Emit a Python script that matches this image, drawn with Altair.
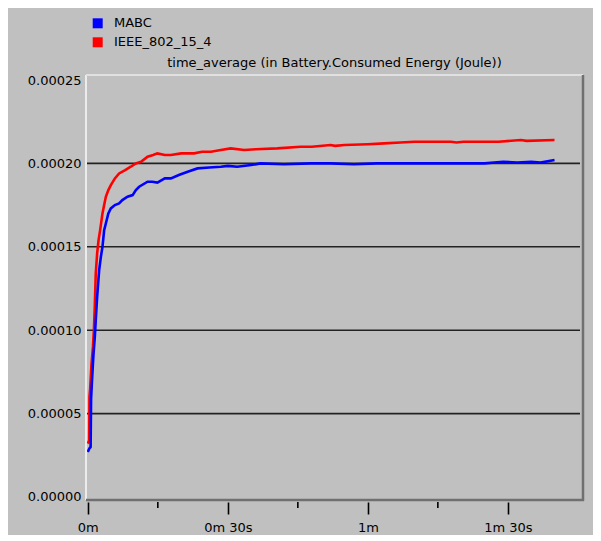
import altair as alt
import pandas as pd

W, H = 497, 425

series_names = ["MABC", "IEEE_802_15_4"]
series_colors = ["#0000ff", "#ff0000"]
title_text = "time_average (in Battery.Consumed Energy (Joule))"

mabc_t = [0, 0.3, 0.6, 0.7, 0.9, 1.2, 1.5, 1.7, 2.0, 2.43,
          2.8, 3.14, 3.5, 3.86, 4.4, 4.93, 5.8, 6.7, 7.4, 8.5,
          9.6, 10.3, 11, 12.8, 13.8, 14.9, 16.5, 17.8, 19.5, 21.4,
          23.5, 26, 28.5, 30, 32, 35, 37, 42, 47.8, 52,
          57, 62, 66, 70, 75, 80, 85, 89, 92, 95,
          97, 100]
mabc_v = [2.7e-5, 2.9e-5, 3.0e-5, 5.9e-5, 7.0e-5, 8.5e-5, 9.6e-5, 10.6e-5, 12.0e-5, 13.6e-5,
          14.4e-5, 15.0e-5, 16.0e-5, 16.4e-5, 17.0e-5, 17.3e-5, 17.5e-5, 17.6e-5, 17.8e-5, 18.0e-5,
          18.1e-5, 18.4e-5, 18.6e-5, 18.9e-5, 18.9e-5, 18.85e-5, 19.1e-5, 19.1e-5, 19.3e-5, 19.5e-5,
          19.7e-5, 19.75e-5, 19.8e-5, 19.85e-5, 19.8e-5, 19.9e-5, 20.0e-5, 19.95e-5, 20.0e-5, 20.0e-5,
          19.95e-5, 20.0e-5, 20.0e-5, 20.0e-5, 20.0e-5, 20.0e-5, 20.0e-5, 20.1e-5, 20.05e-5, 20.1e-5,
          20.05e-5, 20.2e-5]

ieee_t = [0, 0.3, 0.35, 0.5, 0.8, 1.1, 1.3, 1.5, 1.7, 2.0,
          2.3, 2.64, 3.14, 3.5, 3.86, 4.4, 4.93, 5.8, 6.7, 8.0,
          9.2, 10.3, 11.4, 12.8, 14.0, 14.9, 16.5, 17.8, 20, 22.8,
          24.5, 26.4, 28.5, 30.6, 33.5, 36, 40.6, 45.6, 48, 52,
          53, 55, 60, 63.5, 67, 70, 74, 77.8, 79, 80.5,
          81.4, 88, 92.8, 94, 100]
ieee_v = [3.2e-5, 3.4e-5, 6.0e-5, 6.5e-5, 8.0e-5, 9.0e-5, 10.0e-5, 11.5e-5, 13.4e-5, 14.6e-5,
          15.4e-5, 16.0e-5, 17.0e-5, 17.5e-5, 18.0e-5, 18.4e-5, 18.7e-5, 19.1e-5, 19.4e-5, 19.6e-5,
          19.8e-5, 20.0e-5, 20.1e-5, 20.4e-5, 20.5e-5, 20.6e-5, 20.5e-5, 20.5e-5, 20.6e-5, 20.6e-5,
          20.7e-5, 20.7e-5, 20.8e-5, 20.9e-5, 20.8e-5, 20.85e-5, 20.9e-5, 21.0e-5, 21.0e-5, 21.1e-5,
          21.05e-5, 21.1e-5, 21.15e-5, 21.2e-5, 21.25e-5, 21.3e-5, 21.3e-5, 21.3e-5, 21.25e-5, 21.3e-5,
          21.3e-5, 21.3e-5, 21.4e-5, 21.35e-5, 21.4e-5]

y_ticks = [0, 0.00005, 0.0001, 0.00015, 0.0002, 0.00025]
y_grid = [0.00005, 0.0001, 0.00015, 0.0002]
x_major = [0, 30, 60, 90]
x_minor = [15, 45, 75]

FONT = "DejaVu Sans"
FS = 13

df_m = pd.DataFrame({"t": mabc_t, "v": mabc_v, "s": "MABC"})
df_i = pd.DataFrame({"t": ieee_t, "v": ieee_v, "s": "IEEE_802_15_4"})

xscale = alt.Scale(domain=[-0.39, 106.1], nice=False, zero=False)
yscale = alt.Scale(domain=[-0.0000018, 0.000253], nice=False, zero=False)

xaxis = alt.Axis(values=x_major, title=None, grid=False, domain=False,
                 offset=2, tickSize=12, tickColor="#000", tickWidth=1.6,
                 labelExpr="floor(datum.value/60) + 'm' + (datum.value % 60 ? ' ' + (datum.value % 60) + 's' : '')",
                 labelFont=FONT, labelFontSize=FS, labelColor="#000", labelPadding=7,
                 labelFlush=False, labelOverlap=False)
yaxis = alt.Axis(values=y_ticks, format=".5f", title=None, grid=False,
                 ticks=False, domain=False, labelPadding=5,
                 labelFont=FONT, labelFontSize=FS, labelColor="#000")

cscale = alt.Scale(domain=series_names, range=series_colors)

grid = alt.Chart(pd.DataFrame({"v": y_grid})).mark_rule(color="#222", strokeWidth=1.6).encode(
    y=alt.Y("v:Q", scale=yscale, axis=yaxis),
    x=alt.value(0), x2=alt.value(W - 3),
)

red = alt.Chart(df_i).mark_line(strokeWidth=2.6).encode(
    x=alt.X("t:Q", scale=xscale, axis=xaxis),
    y=alt.Y("v:Q", scale=yscale, axis=yaxis),
    color=alt.Color("s:N", scale=cscale, legend=None),
)
blue = alt.Chart(df_m).mark_line(strokeWidth=2.6).encode(
    x=alt.X("t:Q", scale=xscale, axis=xaxis),
    y=alt.Y("v:Q", scale=yscale, axis=yaxis),
    color=alt.Color("s:N", scale=cscale, legend=None),
)

minor = alt.Chart(pd.DataFrame({"t": x_minor})).mark_rule(color="#000", strokeWidth=1.6).encode(
    x=alt.X("t:Q", scale=xscale, axis=xaxis),
    y=alt.value(H + 2), y2=alt.value(H + 8),
)

one = pd.DataFrame({"a": [0]})
title_mark = alt.Chart(one).mark_text(text=title_text, font=FONT, fontSize=FS, color="#000",
                                      align="center", baseline="middle").encode(
    x=alt.value(W / 2), y=alt.value(-12))

b_left = alt.Chart(one).mark_rule(color="#ececec", strokeWidth=2).encode(
    x=alt.value(0), y=alt.value(0), y2=alt.value(H))
b_top = alt.Chart(one).mark_rule(color="#e0e0e0", strokeWidth=2).encode(
    x=alt.value(0), x2=alt.value(W), y=alt.value(0))
b_right = alt.Chart(one).mark_rule(color="#707070", strokeWidth=2.5).encode(
    x=alt.value(W), y=alt.value(0), y2=alt.value(H + 1))
b_bottom = alt.Chart(one).mark_rule(color="#707070", strokeWidth=2.5).encode(
    x=alt.value(0), x2=alt.value(W + 1), y=alt.value(H))

main = alt.layer(grid, red, blue, minor, title_mark, b_left, b_top, b_right, b_bottom)

# legend (top-left, outside the plot area)
leg_df = pd.DataFrame({"s": series_names})
leg_y = alt.Y("s:N", scale=alt.Scale(type="point", padding=0, domain=series_names,
                                     range=[-51.7, -32.7]), axis=None)
leg_sq = alt.Chart(leg_df).mark_square(size=100, filled=True, opacity=1).encode(
    x=alt.value(11.7), y=leg_y,
    color=alt.Color("s:N", scale=cscale, legend=None),
)
leg_tx = alt.Chart(leg_df).mark_text(font=FONT, fontSize=FS, color="#000",
                                     align="left", baseline="middle").encode(
    x=alt.value(28), y=leg_y, text="s:N",
)
legend = alt.layer(leg_sq, leg_tx)

chart = alt.layer(main, legend).resolve_scale(y="independent").properties(
    width=W, height=H,
    background="#c0c0c0",
    padding={"left": 78, "top": 67, "right": 10, "bottom": 35},
    autosize=alt.AutoSizeParams(type="none"),
).configure_view(stroke=None)

chart.save("out.html", embed_options={"renderer": "svg", "actions": False})
